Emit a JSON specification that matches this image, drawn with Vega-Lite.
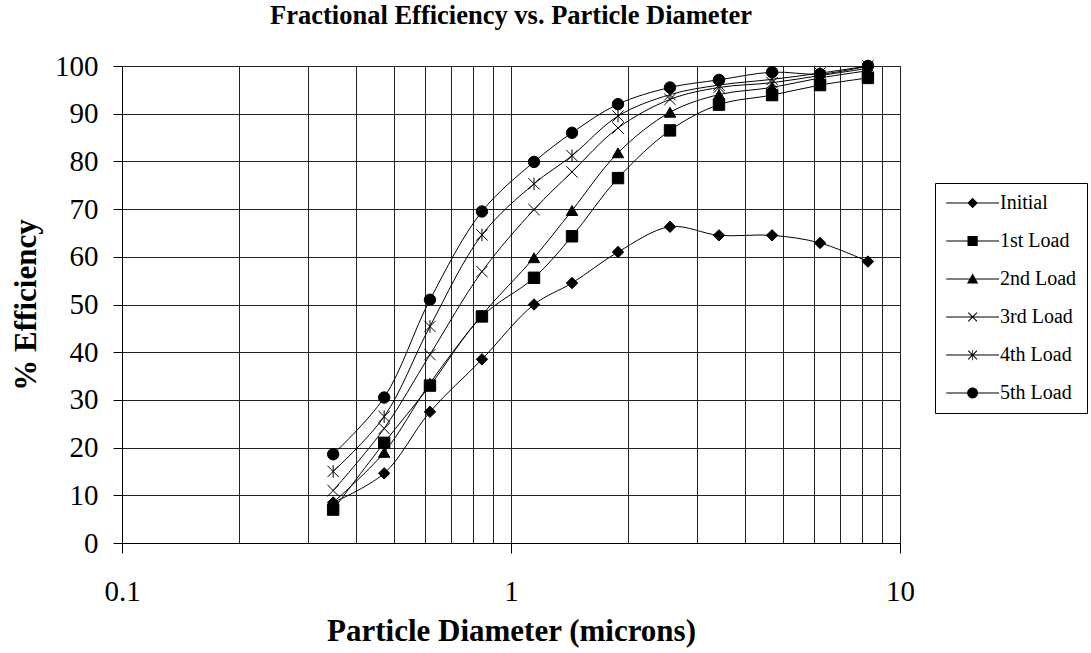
{
  "$schema": "https://vega.github.io/schema/vega-lite/v6.json",
  "width": 778,
  "height": 477,
  "autosize": {"type": "none"},
  "padding": {"left": 122, "top": 66, "right": 191, "bottom": 110},
  "background": "white",
  "title": {
    "text": "Fractional Efficiency vs. Particle Diameter",
    "font": "Liberation Serif",
    "fontSize": 26.5,
    "fontWeight": "bold",
    "color": "black",
    "anchor": "middle",
    "offset": 23
  },
  "config": {
    "view": {"stroke": "black", "strokeWidth": 1},
    "axis": {
      "labelFont": "Liberation Serif",
      "titleFont": "Liberation Serif",
      "labelColor": "black",
      "titleColor": "black",
      "domainColor": "black",
      "tickColor": "black",
      "gridColor": "#222",
      "gridOpacity": 1,
      "gridWidth": 1
    },
    "legend": {
      "symbolFillColor": "black",
      "symbolStrokeColor": "black",
      "symbolStrokeWidth": 1,
      "symbolOpacity": 1
    }
  },
  "data": {
    "values": [
      {"series": "Initial", "d": 0.349, "eff": 8.5},
      {"series": "Initial", "d": 0.472, "eff": 14.6},
      {"series": "Initial", "d": 0.619, "eff": 27.5},
      {"series": "Initial", "d": 0.842, "eff": 38.5},
      {"series": "Initial", "d": 1.146, "eff": 50},
      {"series": "Initial", "d": 1.435, "eff": 54.5},
      {"series": "Initial", "d": 1.884, "eff": 61},
      {"series": "Initial", "d": 2.563, "eff": 66.3},
      {"series": "Initial", "d": 3.425, "eff": 64.5},
      {"series": "Initial", "d": 4.69, "eff": 64.5},
      {"series": "Initial", "d": 6.23, "eff": 62.9},
      {"series": "Initial", "d": 8.27, "eff": 59},

      {"series": "1st Load", "d": 0.349, "eff": 7},
      {"series": "1st Load", "d": 0.472, "eff": 21},
      {"series": "1st Load", "d": 0.619, "eff": 33},
      {"series": "1st Load", "d": 0.842, "eff": 47.5},
      {"series": "1st Load", "d": 1.146, "eff": 55.6},
      {"series": "1st Load", "d": 1.435, "eff": 64.3},
      {"series": "1st Load", "d": 1.884, "eff": 76.5},
      {"series": "1st Load", "d": 2.563, "eff": 86.5},
      {"series": "1st Load", "d": 3.425, "eff": 91.9},
      {"series": "1st Load", "d": 4.69, "eff": 93.9},
      {"series": "1st Load", "d": 6.23, "eff": 96},
      {"series": "1st Load", "d": 8.27, "eff": 97.5},

      {"series": "2nd Load", "d": 0.349, "eff": 8.5},
      {"series": "2nd Load", "d": 0.472, "eff": 19},
      {"series": "2nd Load", "d": 0.619, "eff": 33.5},
      {"series": "2nd Load", "d": 0.842, "eff": 47.8},
      {"series": "2nd Load", "d": 1.146, "eff": 59.8},
      {"series": "2nd Load", "d": 1.435, "eff": 69.7},
      {"series": "2nd Load", "d": 1.884, "eff": 81.8},
      {"series": "2nd Load", "d": 2.563, "eff": 90.3},
      {"series": "2nd Load", "d": 3.425, "eff": 94},
      {"series": "2nd Load", "d": 4.69, "eff": 95.5},
      {"series": "2nd Load", "d": 6.23, "eff": 97.5},
      {"series": "2nd Load", "d": 8.27, "eff": 99},

      {"series": "3rd Load", "d": 0.349, "eff": 11},
      {"series": "3rd Load", "d": 0.472, "eff": 24},
      {"series": "3rd Load", "d": 0.619, "eff": 39.5},
      {"series": "3rd Load", "d": 0.842, "eff": 56.9},
      {"series": "3rd Load", "d": 1.146, "eff": 69.9},
      {"series": "3rd Load", "d": 1.435, "eff": 77.8},
      {"series": "3rd Load", "d": 1.884, "eff": 87},
      {"series": "3rd Load", "d": 2.563, "eff": 93},
      {"series": "3rd Load", "d": 3.425, "eff": 95.5},
      {"series": "3rd Load", "d": 4.69, "eff": 96.5},
      {"series": "3rd Load", "d": 6.23, "eff": 98},
      {"series": "3rd Load", "d": 8.27, "eff": 99.5},

      {"series": "4th Load", "d": 0.349, "eff": 15},
      {"series": "4th Load", "d": 0.472, "eff": 26.5},
      {"series": "4th Load", "d": 0.619, "eff": 45.4},
      {"series": "4th Load", "d": 0.842, "eff": 64.6},
      {"series": "4th Load", "d": 1.146, "eff": 75.3},
      {"series": "4th Load", "d": 1.435, "eff": 81.2},
      {"series": "4th Load", "d": 1.884, "eff": 89.5},
      {"series": "4th Load", "d": 2.563, "eff": 94},
      {"series": "4th Load", "d": 3.425, "eff": 96},
      {"series": "4th Load", "d": 4.69, "eff": 97.2},
      {"series": "4th Load", "d": 6.23, "eff": 98.5},
      {"series": "4th Load", "d": 8.27, "eff": 100},

      {"series": "5th Load", "d": 0.349, "eff": 18.6},
      {"series": "5th Load", "d": 0.472, "eff": 30.5},
      {"series": "5th Load", "d": 0.619, "eff": 51},
      {"series": "5th Load", "d": 0.842, "eff": 69.5},
      {"series": "5th Load", "d": 1.146, "eff": 79.9},
      {"series": "5th Load", "d": 1.435, "eff": 86},
      {"series": "5th Load", "d": 1.884, "eff": 92},
      {"series": "5th Load", "d": 2.563, "eff": 95.5},
      {"series": "5th Load", "d": 3.425, "eff": 97.1},
      {"series": "5th Load", "d": 4.69, "eff": 98.7},
      {"series": "5th Load", "d": 6.23, "eff": 98.3},
      {"series": "5th Load", "d": 8.27, "eff": 100}
    ]
  },
  "encoding": {
    "x": {
      "field": "d",
      "type": "quantitative",
      "scale": {"type": "log", "domain": [0.1, 10], "nice": false},
      "axis": {
        "title": "Particle Diameter (microns)",
        "titleFontSize": 31,
        "titleFontWeight": "bold",
        "titlePadding": 10,
        "labelFontSize": 29,
        "labelPadding": 24,
        "tickSize": 10,
        "values": [0.1, 0.2, 0.3, 0.4, 0.5, 0.6, 0.7, 0.8, 0.9, 1, 2, 3, 4, 5, 6, 7, 8, 9, 10],
        "labelExpr": "datum.value == 0.1 ? '0.1' : datum.value == 1 ? '1' : datum.value == 10 ? '10' : ''",
        "tickOpacity": {"condition": {"test": "datum.value == 0.1 || datum.value == 1 || datum.value == 10", "value": 1}, "value": 0},
        "labelOverlap": false,
        "labelFlush": false,
        "grid": true
      }
    },
    "y": {
      "field": "eff",
      "type": "quantitative",
      "scale": {"domain": [0, 100], "nice": false},
      "axis": {
        "title": "% Efficiency",
        "titleFontSize": 31,
        "titleFontWeight": "bold",
        "titlePadding": 12,
        "labelFontSize": 29,
        "labelPadding": 15,
        "tickSize": 9,
        "values": [0, 10, 20, 30, 40, 50, 60, 70, 80, 90, 100],
        "grid": true
      }
    }
  },
  "layer": [
    {
      "mark": {"type": "line", "interpolate": "catmull-rom", "color": "black", "strokeWidth": 1},
      "encoding": {
        "detail": {"field": "series"},
        "order": {"field": "d"}
      }
    },
    {
      "mark": {"type": "point", "filled": true, "fill": "black", "stroke": "black", "strokeWidth": 1, "opacity": 1, "size": 130},
      "encoding": {
        "shape": {
          "field": "series",
          "type": "nominal",
          "scale": {
            "domain": ["Initial", "1st Load", "2nd Load", "3rd Load", "4th Load", "5th Load"],
            "range": ["diamond", "square", "triangle-up", "M-1,-1L1,1M-1,1L1,-1", "M-1,-1L1,1M-1,1L1,-1M0,-1.1L0,1.1", "circle"]
          },
          "legend": null
        }
      }
    },
    {
      "mark": {"type": "point", "filled": true, "fill": "black", "opacity": 0, "size": 310},
      "encoding": {
        "shape": {
          "field": "series",
          "type": "nominal",
          "scale": {
            "domain": ["Initial", "1st Load", "2nd Load", "3rd Load", "4th Load", "5th Load"],
            "range": [
              "M-1,-0.057L5,-0.057L5,0.057L-1,0.057ZM2,-0.6L2.6,0L2,0.6L1.4,0Z",
              "M-1,-0.057L5,-0.057L5,0.057L-1,0.057ZM1.42,-0.58L2.58,-0.58L2.58,0.58L1.42,0.58Z",
              "M-1,-0.057L5,-0.057L5,0.057L-1,0.057ZM2,-0.62L2.64,0.52L1.36,0.52Z",
              "M-1,-0.057L5,-0.057L5,0.057L-1,0.057ZM1.46,-0.46L1.54,-0.54L2.54,0.46L2.46,0.54ZM1.46,0.46L2.46,-0.54L2.54,-0.46L1.54,0.54Z",
              "M-1,-0.057L5,-0.057L5,0.057L-1,0.057ZM1.46,-0.46L1.54,-0.54L2.54,0.46L2.46,0.54ZM1.46,0.46L2.46,-0.54L2.54,-0.46L1.54,0.54ZM1.96,-0.6L2.04,-0.6L2.04,0.6L1.96,0.6Z",
              "M-1,-0.057L5,-0.057L5,0.057L-1,0.057ZM1.38,0A0.62,0.62,0,1,1,2.62,0A0.62,0.62,0,1,1,1.38,0Z"
            ]
          },
          "legend": {
            "title": null,
            "orient": "none",
            "legendX": 813,
            "legendY": 117,
            "padding": 10,
            "strokeColor": "black",
            "fillColor": "white",
            "cornerRadius": 0,
            "labelFont": "Liberation Serif",
            "labelFontSize": 20,
            "labelColor": "black",
            "labelOffset": 35,
            "rowPadding": 18,
            "symbolSize": 310,
            "symbolFillColor": "black",
            "symbolStrokeColor": "black",
            "symbolStrokeWidth": 0,
            "symbolOpacity": 1
          }
        }
      }
    }
  ],
  "resolve": {"scale": {"shape": "independent"}, "legend": {"shape": "independent"}}
}
